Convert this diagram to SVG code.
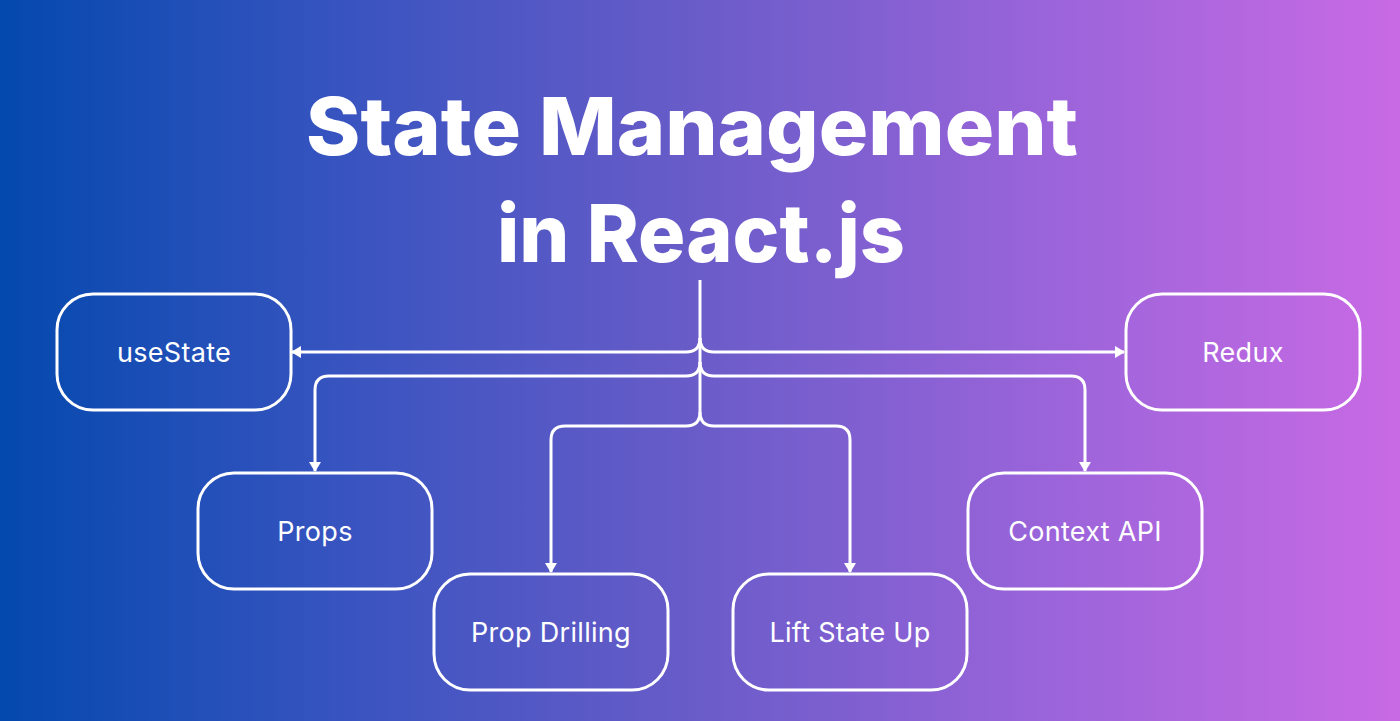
<svg xmlns="http://www.w3.org/2000/svg" width="1400" height="721" viewBox="0 0 1400 721">
<defs>
<linearGradient id="bg" x1="0" y1="0" x2="1" y2="0">
<stop offset="0" stop-color="#0449ae"/>
<stop offset="0.25" stop-color="#3954c0"/>
<stop offset="0.5" stop-color="#6a5cc9"/>
<stop offset="0.75" stop-color="#9b64da"/>
<stop offset="1" stop-color="#c86ae4"/>
</linearGradient>
<marker id="arr" markerUnits="userSpaceOnUse" markerWidth="10" markerHeight="12" refX="9" refY="6" orient="auto" viewBox="0 0 10 12">
<path d="M0,0 L10,6 L0,12 z" fill="#fff"/>
</marker>
<style>
.node rect{fill:none;stroke:#fff;stroke-width:3}
.node text{fill:#fff;font-family:"Inter","Noto Sans",sans-serif;font-size:27px;letter-spacing:0.3px;text-anchor:middle}
.title{fill:#fff;font-family:"Inter","Noto Sans",sans-serif;font-weight:800;font-size:80px;text-anchor:middle}
#connectors path{fill:none;stroke:#fff;stroke-width:3}
</style>
</defs>
<rect width="1400" height="721" fill="url(#bg)"/>
<g id="title">
<text class="title" x="692" y="155" textLength="772" lengthAdjust="spacingAndGlyphs">State Management</text>
<text class="title" x="701" y="262" textLength="408" lengthAdjust="spacingAndGlyphs">in React.js</text>
</g>
<g id="connectors">
<path d="M700,280 V412"/>
<path d="M700,338 Q700,352 686,352 H292" marker-end="url(#arr)"/>
<path d="M700,338 Q700,352 714,352 H1124" marker-end="url(#arr)"/>
<path d="M700,362 Q700,376 686,376 H329 Q315,376 315,390 V471" marker-end="url(#arr)"/>
<path d="M700,362 Q700,376 714,376 H1071 Q1085,376 1085,390 V471" marker-end="url(#arr)"/>
<path d="M700,412 Q700,426 686,426 H565 Q551,426 551,440 V572" marker-end="url(#arr)"/>
<path d="M700,412 Q700,426 714,426 H836 Q850,426 850,440 V572" marker-end="url(#arr)"/>
</g>
<g id="node-usestate" class="node"><rect x="57" y="294" width="234" height="116" rx="36"/><text x="174" y="362">useState</text></g>
<g id="node-redux" class="node"><rect x="1126" y="294" width="234" height="116" rx="36"/><text x="1243" y="362">Redux</text></g>
<g id="node-props" class="node"><rect x="198" y="473" width="234" height="116" rx="36"/><text x="315" y="541">Props</text></g>
<g id="node-context" class="node"><rect x="968" y="473" width="234" height="116" rx="36"/><text x="1085" y="541">Context API</text></g>
<g id="node-propdrilling" class="node"><rect x="434" y="574" width="234" height="116" rx="36"/><text x="551" y="642">Prop Drilling</text></g>
<g id="node-liftstate" class="node"><rect x="733" y="574" width="234" height="116" rx="36"/><text x="850" y="642">Lift State Up</text></g>
</svg>
